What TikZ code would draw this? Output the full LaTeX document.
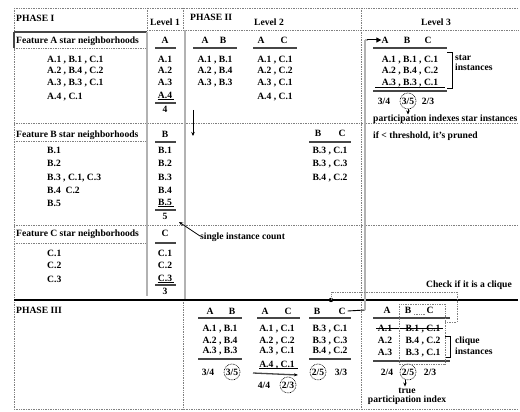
\documentclass[tikz,border=0pt]{standalone}
\usepackage{fontspec}
\setmainfont{Liberation Serif}
\usetikzlibrary{arrows.meta}
\begin{document}
\begin{tikzpicture}[x=1pt,y=-1pt,
  t/.style={font=\fontsize{9.6}{10}\selectfont\bfseries, inner sep=0pt, text height=6.5pt, text depth=0pt},
  tl/.style={t, anchor=west},
  dots/.style={draw=gray, line width=0.7pt, dash pattern=on 0.8pt off 0.9pt},
  hl/.style={draw=gray!55!black, line width=1.3pt},
  ul/.style={draw=black, line width=0.6pt},
  bar/.style={draw=gray!60, line width=2.6pt},
  circ/.style={draw=black, line width=0.6pt, dash pattern=on 0.8pt off 0.8pt},
  arr/.style={draw=black, line width=0.8pt, -{Stealth[length=4pt,width=3.5pt]}}]
\useasboundingbox (0,0) rectangle (520,412);
% frame and grid
\draw[dots] (14,8) -- (518,8);
\draw[dots] (14,8) -- (14,409);
\draw[dots] (14,409) -- (518,409);
\draw[dots] (147,30) -- (518,30);
\draw[dots] (147,8) -- (147,32);
\draw[dots] (183,8) -- (183,30);
\draw[dots] (183,300) -- (183,409);
\draw[dots] (361,8) -- (361,409);
\draw[dots] (14,123) -- (518,123);
\draw[dots] (14,225) -- (518,225);
\draw[dots] (14,48) -- (147,48);
\draw[dots] (14,141) -- (147,141);
\draw[dots] (14,243) -- (147,243);
\draw[draw=gray!55!black, line width=1.2pt] (14,32) -- (147,32);
\draw[draw=gray!55!black, line width=1.2pt] (14,32) -- (14,48);
\draw[bar] (147,32) -- (147,296);
\draw[bar] (185,30) -- (185,300);
\draw[draw=black, line width=1.4pt] (14,300) -- (518,300);

% ---------- headers
\node[tl] (ph1) at (16,18) {PHASE I};
\node[tl] (ph2) at (190,17) {PHASE II};
\node[tl] (ph3) at (16,310) {PHASE III};
\node[t] (lev1) at (165,22) {Level 1};
\node[t] (lev2) at (269,22) {Level 2};
\node[t] (lev3) at (436,22) {Level 3};

% ---------- Phase I
\node[tl] (fa) at (16,40) {Feature A star neighborhoods};
\node[tl] (fa1) at (47,59) {A.1 , B.1 , C.1};
\node[tl] (fa2) at (47,70) {A.2 , B.4 , C.2};
\node[tl] (fa3) at (47,82) {A.3 , B.3 , C.1};
\node[tl] (fa4) at (47,96) {A.4 , C.1};
\node[tl] (fb) at (16,134) {Feature B star neighborhoods};
\node[tl] (fb1) at (47,150) {B.1};
\node[tl] (fb2) at (47,163) {B.2};
\node[tl] (fb3) at (47,177) {B.3 , C.1, C.3};
\node[tl] (fb4) at (47,190) {B.4\enspace C.2};
\node[tl] (fb5) at (47,203) {B.5};
\node[tl] (fc) at (16,233) {Feature C star neighborhoods};
\node[tl] (fc1) at (47,253) {C.1};
\node[tl] (fc2) at (47,265) {C.2};
\node[tl] (fc3) at (47,279) {C.3};

% Level 1 column
\node[t] (a0) at (165,40) {A};
\draw[hl] (155,48) -- (176,48);
\node[t] (a1) at (165,59) {A.1};
\node[t] (a2) at (165,70) {A.2};
\node[t] (a3) at (165,82) {A.3};
\node[t] (a4) at (165,95) {A.4};
\draw[ul] (a4.south west) ++(0,1) -- ++(16,0);
\draw[hl] (155,103) -- (176,103);
\node[t] (acnt) at (165,109) {4};
\node[t] (b0) at (165,134) {B};
\draw[hl] (155,142) -- (176,142);
\node[t] (b1) at (165,150) {B.1};
\node[t] (b2) at (165,163) {B.2};
\node[t] (b3) at (165,177) {B.3};
\node[t] (b4) at (165,190) {B.4};
\node[t] (b5) at (165,202) {B.5};
\draw[ul] (b5.south west) ++(0,1) -- ++(16,0);
\draw[hl] (155,210) -- (176,210);
\node[t] (bcnt) at (165,216) {5};
\node[t] (c0) at (165,233) {C};
\draw[hl] (155,243) -- (176,243);
\node[t] (c1) at (165,253) {C.1};
\node[t] (c2) at (165,265) {C.2};
\node[t] (c3) at (165,278) {C.3};
\draw[ul] (c3.south west) ++(0,1) -- ++(16,0);
\draw[hl] (155,285) -- (176,285);
\node[t] (ccnt) at (165,291) {3};

\node[tl] (sic) at (200,236) {single instance count};
\coordinate (sictip) at (179,222);
\draw[arr] (sic.west) -- (sictip);

% ---------- Phase II, Level 2
\node[t] (p2abA) at (205,40) {A};
\node[t] (p2abB) at (223,40) {B};
\draw[hl] (193,48) -- (237,48);
\node[t] (p2ab1) at (215,59) {A.1 , B.1};
\node[t] (p2ab2) at (215,70) {A.2 , B.4};
\node[t] (p2ab3) at (215,82) {A.3 , B.3};
\node[t] (p2acA) at (261,40) {A};
\node[t] (p2acC) at (284,40) {C};
\draw[hl] (253,48) -- (297,48);
\node[t] (p2ac1) at (275,59) {A.1 , C.1};
\node[t] (p2ac2) at (275,70) {A.2 , C.2};
\node[t] (p2ac3) at (275,82) {A.3 , C.1};
\node[t] (p2ac4) at (275,96) {A.4 , C.1};
\coordinate (dnA) at (193,110);
\coordinate (dnB) at (193,136);
\draw[arr] (dnA) -- (dnB);
\node[t] (p2bcB) at (318,133) {B};
\node[t] (p2bcC) at (342,133) {C};
\draw[hl] (309,142) -- (351,142);
\node[t] (p2bc1) at (330,150) {B.3 , C.1};
\node[t] (p2bc2) at (330,163) {B.3 , C.3};
\node[t] (p2bc3) at (330,177) {B.4 , C.2};

% ---------- Phase II, Level 3
\node[t] (p2abcA) at (385,40) {A};
\node[t] (p2abcB) at (407,40) {B};
\node[t] (p2abcC) at (428,40) {C};
\draw[hl] (373,48) -- (447,48);
\node[t] (p2abc1) at (410,59) {A.1 , B.1 , C.1};
\node[t] (p2abc2) at (410,70) {A.2 , B.4 , C.2};
\node[t] (p2abc3) at (410,82) {A.3 , B.3 , C.1};
\draw[ul] (375,87) -- (445,87);
\draw[hl] (373,91) -- (447,91);
\draw[ul] (447,52) -- (452,52) -- (452,88) -- (447,88);
\node[tl] (si1) at (455,57) {star};
\node[tl] (si2) at (455,67) {instances};
\node[t] (p2v1) at (384,101) {3/4};
\node[t] (p2v2) at (408,101) {3/5};
\node[t] (p2v3) at (428,101) {2/3};
\draw[circ] (p2v2.center) circle (8);
\node[tl] (pist) at (373,118) {participation indexes star instances};
\node[tl] (thr) at (373,135) {if < threshold, it's pruned};
\coordinate (p2circ) at (408,109);
\draw[arr] (p2circ) -- (408,114.5);

% ---------- Phase III
\node[t] (p3abA) at (210,311) {A};
\node[t] (p3abB) at (232,311) {B};
\draw[hl] (198,318) -- (242,318);
\node[t] (p3ab1) at (220,328) {A.1 , B.1};
\node[t] (p3ab2) at (220,340) {A.2 , B.4};
\node[t] (p3ab3) at (220,350) {A.3 , B.3};
\draw[hl] (198,359) -- (242,359);
\node[t] (p3abv1) at (208,372) {3/4};
\node[t] (p3abv2) at (232,372) {3/5};
\draw[circ] (p3abv2.center) circle (8);

\node[t] (p3acA) at (265,311) {A};
\node[t] (p3acC) at (288,311) {C};
\draw[hl] (257,318) -- (300,318);
\node[t] (p3ac1) at (277,328) {A.1 , C.1};
\node[t] (p3ac2) at (277,340) {A.2 , C.2};
\node[t] (p3ac3) at (277,350) {A.3 , C.1};
\node[t] (p3ac4) at (277,364) {A.4 , C.1};
\draw[ul] (p3ac4.south west) ++(0,1) -- ++(39,0);
\draw[hl, -{Stealth[length=4pt,width=3pt,black]}] (253,373) -- (298,375);
\node[t] (p3acv1) at (264,385) {4/4};
\node[t] (p3acv2) at (288,385) {2/3};
\draw[circ] (p3acv2.center) circle (8);

\node[t] (p3bcB) at (317,311) {B};
\node[t] (p3bcC) at (342,311) {C};
\draw[hl] (309,318) -- (351,318);
\node[t] (p3bc1) at (330,328) {B.3 , C.1};
\node[t] (p3bc2) at (330,340) {B.3 , C.3};
\node[t] (p3bc3) at (330,350) {B.4 , C.2};
\draw[hl] (309,359) -- (351,359);
\node[t] (p3bcv1) at (318,372) {2/5};
\node[t] (p3bcv2) at (341,372) {3/3};
\draw[circ] (p3bcv1.center) circle (8);

% Level 3 connector (Phase III B C -> Phase II A B C)
\coordinate (cbot) at (365,310);
\coordinate (ctop) at (365,40);
\draw[draw=black, line width=0.9pt] (p3bcC.east) ++(2,0) -- (cbot);
\draw[bar] (cbot) -- (ctop);
\draw[draw=gray!60, line width=2.6pt] (ctop) -- (368,40);
\draw[draw=black, line width=1pt, -{Triangle[length=5pt,width=5pt]}] (367,40) -- (p2abcA.west);

% ---------- Phase III, Level 3
\node[t] (p3A) at (387,310) {A};
\node[t] (p3B) at (408,310) {B};
\node[t] (p3C) at (430,310) {C};
\draw[hl] (373,318) -- (450,318);
\node[t] (p3r1a) at (385,328) {A.1};
\node[t] (p3r1b) at (423,328) {B.1 , C.1};
\draw[draw=black, line width=0.7pt] (376,328) -- (443,328);
\node[t] (p3r2a) at (385,340) {A.2};
\node[t] (p3r2b) at (423,340) {B.4 , C.2};
\node[t] (p3r3a) at (385,352) {A.3};
\node[t] (p3r3b) at (423,352) {B.3 , C.1};
\draw[hl] (373,361) -- (450,361);
\draw[ul] (445,336) -- (450,336) -- (450,357) -- (445,357);
\node[tl] (ci1) at (455,340) {clique};
\node[tl] (ci2) at (455,351) {instances};
\node[t] (p3v1) at (387,372) {2/4};
\node[t] (p3v2) at (408,372) {2/5};
\node[t] (p3v3) at (430,372) {2/3};
\draw[circ] (p3v2.center) circle (8);
\node[t] (tru1) at (407,390) {true};
\node[t] (tru2) at (407,399) {participation index};
\coordinate (p3circ) at (405,380);
\draw[arr] (p3circ) -- (tru1.north -| p3circ);

% clique check callout
\draw[dots] (399,304) rectangle (445,364);
\draw[dots] (414,314) -- (425,314);
\node[t] (chk) at (469,284) {Check if it is a clique};
\coordinate (jn) at (331,300);
\fill[black] (jn) circle (2.2);
\draw[dots] (jn) -- (331,292) -- (457,292) -- (457,322) -- (445,322);
\end{tikzpicture}
\end{document}
